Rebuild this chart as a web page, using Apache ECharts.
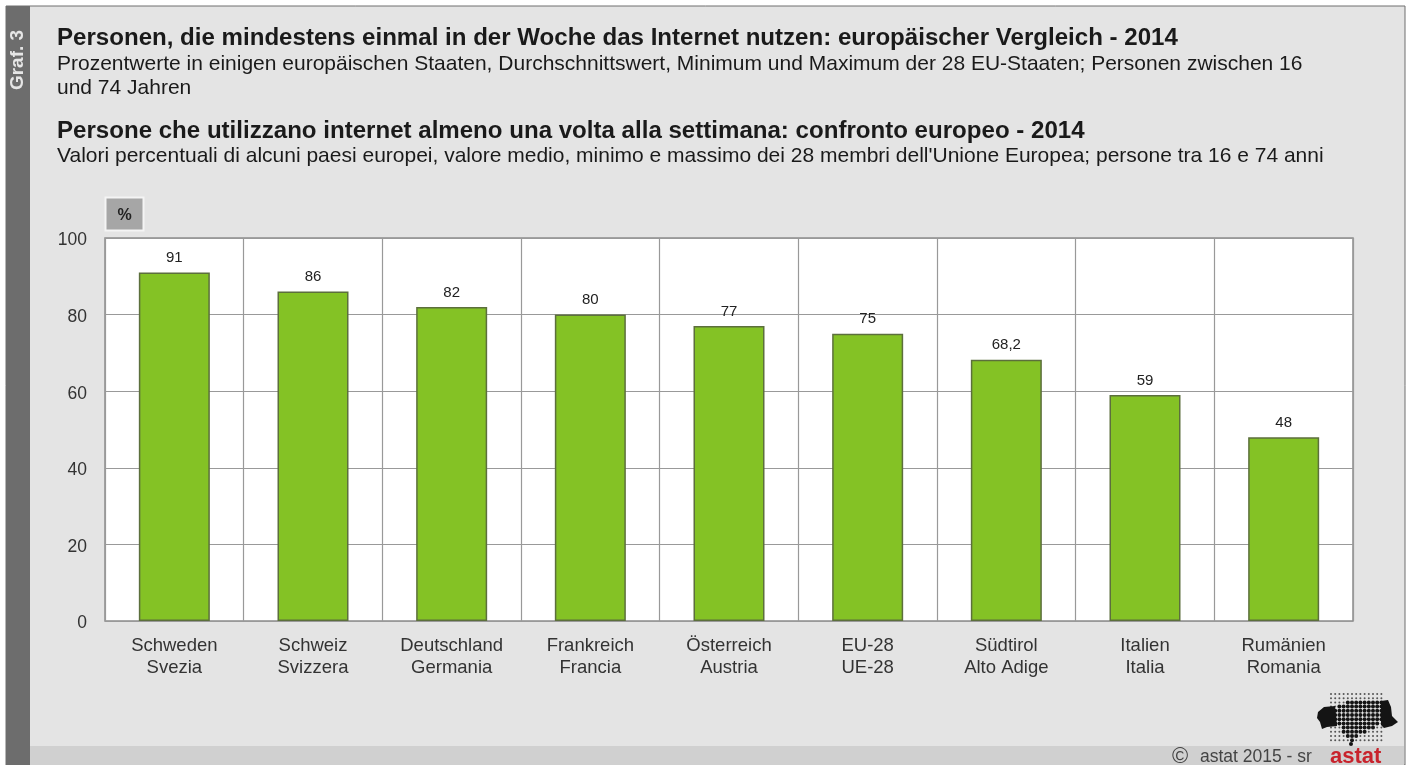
<!DOCTYPE html>
<html><head><meta charset="utf-8">
<style>html,body{margin:0;padding:0;background:#fff}#c{width:1410px;height:765px}</style>
<script src="https://cdn.jsdelivr.net/npm/echarts@6/dist/echarts.min.js"></script>
</head><body><div id="c"></div>
<script>
const categories = ['Schweden\nSvezia','Schweiz\nSvizzera','Deutschland\nGermania','Frankreich\nFrancia','Österreich\nAustria','EU-28\nUE-28','Südtirol\nAlto Adige','Italien\nItalia','Rumänien\nRomania'];
const values = [91,86,82,80,77,75,68.2,59,48];
const yTicks = {min:0,max:100,interval:20};
const FONT = '"Liberation Sans", Arial, sans-serif';
const titleLines = [
 ['Personen, die mindestens einmal in der Woche das Internet nutzen: europäischer Vergleich - 2014',57,38,true],
 ['Prozentwerte in einigen europäischen Staaten, Durchschnittswert, Minimum und Maximum der 28 EU-Staaten; Personen zwischen 16',57,64,false],
 ['und 74 Jahren',57,88,false],
 ['Persone che utilizzano internet almeno una volta alla settimana: confronto europeo - 2014',57,131,true],
 ['Valori percentuali di alcuni paesi europei, valore medio, minimo e massimo dei 28 membri dell\'Unione Europea; persone tra 16 e 74 anni',57,156,false]
];
const g = [
 {type:'rect',z:-10,shape:{x:6,y:6,width:1399,height:759},style:{fill:'#e4e4e4',stroke:'#6e6e6e',lineWidth:1}},
 {type:'rect',z:-9,shape:{x:7,y:746,width:1397,height:19},style:{fill:'#d0d0d0'}},
 {type:'rect',z:-9,shape:{x:6,y:6,width:24,height:759},style:{fill:'#6d6d6d'}},
 {type:'text',z:5,x:18,y:60,rotation:Math.PI/2,style:{text:'Graf. 3',fill:'#e6e6e6',font:'bold 19px '+FONT,align:'center',verticalAlign:'middle'}},
 {type:'rect',z:5,shape:{x:105.5,y:197.5,width:38,height:33},style:{fill:'#a6a6a6',stroke:'#f4f4f4',lineWidth:2}},
 {type:'text',z:6,x:124.5,y:216,style:{text:'%',fill:'#222',font:'bold 16px '+FONT,align:'center',verticalAlign:'middle'}},
 {type:'text',z:6,x:1172,y:757,style:{text:'©',fill:'#444',font:'22px '+FONT,verticalAlign:'middle'}},
 {type:'text',z:6,x:1200,y:757,style:{text:'astat 2015 - sr',fill:'#444',font:'17.5px '+FONT,verticalAlign:'middle'}},
 {type:'text',z:6,x:1330,y:757,style:{text:'astat',fill:'#c8232c',font:'bold 22px '+FONT,verticalAlign:'middle'}}
];
titleLines.forEach(t=>g.push({type:'text',z:6,x:t[1],y:t[2],style:{text:t[0],fill:'#1a1a1a',font:(t[3]?'bold 24.08px ':'21px ')+FONT,verticalAlign:'middle'}}));
// logo: dotted map silhouette (decoration)
g.push({type:'polygon',z:6,shape:{points:[[1318,712],[1324,707],[1335,706],[1337,726],[1327,727],[1322,729],[1320,722],[1317,718]]},style:{fill:'#141414'}});
g.push({type:'polygon',z:6,shape:{points:[[1381,701],[1388,700],[1391,707],[1392,716],[1398,722],[1392,726],[1384,728],[1381,725]]},style:{fill:'#141414'}});
const bigRanges = [null,null,[1345,1383],[1339,1383],[1330,1383],[1330,1383],[1330,1383],[1330,1380],[1340,1375],[1340,1365],[1345,1358],[1348,1354]];
for(let j=0;j<12;j++)for(let i=0;i<13;i++){
 const x=1331+i*4.2,y=694+j*4.2,r=bigRanges[j];
 const big=r&&x>=r[0]&&x<=r[1];
 g.push({type:'circle',z:5,shape:{cx:x,cy:y,r:big?2:1},style:{fill:big?'#141414':'#555'}});
}
g.push({type:'circle',z:5,shape:{cx:1351,cy:744,r:2},style:{fill:'#141414'}});
const option = {
 animation:false,
 backgroundColor:'#fff',
 graphic:{elements:g},
 grid:{left:105,right:57,top:238,bottom:144,show:true,backgroundColor:'#fff',borderColor:'#8c8c8c',borderWidth:1.5},
 xAxis:{type:'category',data:categories,
  axisLine:{show:false},axisTick:{show:false},
  splitLine:{show:true,interval:0,lineStyle:{color:'#999',width:1.2}},
  axisLabel:{interval:0,margin:14,color:'#333',fontSize:18.5,fontFamily:FONT,lineHeight:22}},
 yAxis:{type:'value',min:yTicks.min,max:yTicks.max,interval:yTicks.interval,
  axisLine:{show:false},axisTick:{show:false},
  splitLine:{lineStyle:{color:'#999',width:1.2}},
  axisLabel:{margin:18,formatter:'{v|{value}}',
   rich:{v:{color:'#333',fontSize:17.5,fontFamily:FONT,padding:[5,0,0,0]}}}},
 series:[{type:'bar',data:values,barWidth:71,
  itemStyle:{color:'#84c225',borderColor:'#5c6f3c',borderWidth:1.5},
  label:{show:true,position:'top',distance:7,color:'#222',fontSize:15,fontFamily:FONT,
   formatter:p=>String(p.value).replace('.',',')}}]
};
echarts.init(document.getElementById('c'),null,{renderer:'canvas'}).setOption(option);
</script></body></html>
